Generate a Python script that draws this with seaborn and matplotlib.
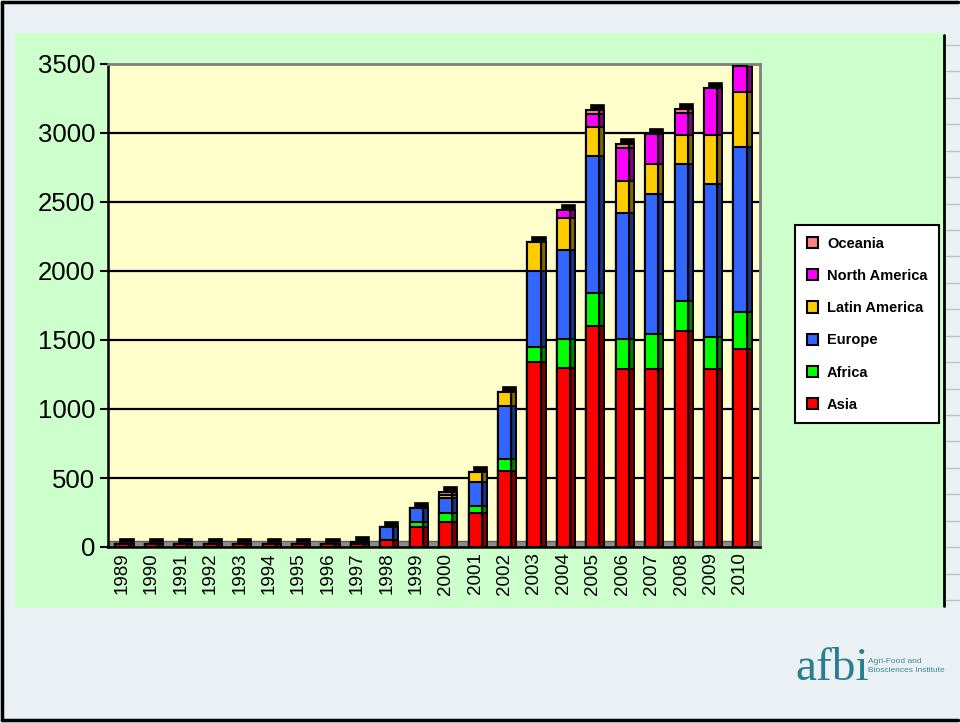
import numpy as np
import pandas as pd
import matplotlib
matplotlib.use("Agg")
import matplotlib.pyplot as plt
import matplotlib.transforms as mtransforms
from matplotlib.patches import Rectangle
from matplotlib.lines import Line2D
import seaborn as sns

# ----------------------------------------------------------
# Data
# ----------------------------------------------------------
years = [str(y) for y in range(1989, 2011)]
asia          = [20, 20, 20, 20, 20, 20, 20, 20, 20, 50, 145, 182, 248, 554, 1342, 1298, 1605, 1291, 1291, 1568, 1291, 1437]
africa        = [0, 0, 0, 0, 0, 0, 0, 0, 0, 0, 37, 66, 51, 81, 109, 212, 233, 219, 255, 212, 233, 263]
europe        = [0, 0, 0, 0, 0, 0, 0, 0, 0, 95, 103, 109, 175, 386, 547, 642, 992, 911, 1014, 992, 1109, 1196]
latin_america = [0, 0, 0, 0, 0, 0, 0, 0, 0, 0, 0, 23, 73, 102, 212, 233, 211, 234, 212, 211, 350, 401]
north_america = [0, 0, 0, 0, 0, 0, 0, 0, 0, 0, 0, 0, 0, 0, 0, 58, 95, 233, 218, 161, 340, 190]
oceania       = [0, 0, 0, 0, 0, 0, 0, 0, 15, 0, 0, 15, 0, 0, 0, 0, 32, 30, 0, 29, 0, 0]

regions = ["Asia", "Africa", "Europe", "Latin America", "North America", "Oceania"]
colors  = ["#FF0000", "#00FF00", "#3366FF", "#FFCC00", "#FF00FF", "#FF8080"]
dark    = ["#800000", "#008000", "#1a3380", "#806600", "#800080", "#804040"]

df = pd.DataFrame({"Year": years, "Asia": asia, "Africa": africa, "Europe": europe,
                   "Latin America": latin_america, "North America": north_america,
                   "Oceania": oceania})
cum = df[regions].cumsum(axis=1)
cum["Year"] = years

# ----------------------------------------------------------
# Figure / slide background
# ----------------------------------------------------------
sns.set_style("white")
plt.rcParams["font.family"] = ["Liberation Sans", "DejaVu Sans"]
plt.rcParams["text.color"] = "black"
plt.rcParams["xtick.color"] = "black"
plt.rcParams["ytick.color"] = "black"

W, H = 960, 723
fig = plt.figure(figsize=(9.6, 7.23), dpi=100)
fig.patch.set_facecolor("#eaf0f3")

def fx(px):
    return px / W

def fy(py):
    return 1 - py / H

# green panel
fig.patches.append(Rectangle((fx(15), fy(608)), fx(930), (608 - 33) / H,
                             transform=fig.transFigure, facecolor="#CCFFCC",
                             edgecolor="none", zorder=-5))
# slide frame
fig.add_artist(Line2D([fx(2), fx(958)], [fy(2), fy(2)], color="black", lw=2.5))
fig.add_artist(Line2D([fx(2), fx(2)], [fy(2), fy(720)], color="black", lw=2.5))
fig.add_artist(Line2D([fx(2), fx(958)], [fy(720), fy(720)], color="black", lw=2.5))
fig.add_artist(Line2D([fx(944), fx(944)], [fy(35), fy(606)], color="black", lw=2))
for ty in np.linspace(45, 600, 22):
    fig.add_artist(Line2D([fx(946), fx(960)], [fy(ty), fy(ty)], color="#b8c4c8", lw=1))

# ----------------------------------------------------------
# Plot area
# ----------------------------------------------------------
ax = fig.add_axes([fx(108), fy(547), fx(760 - 108), (547 - 64) / H])
ax.set_facecolor("#FFFFCC")

off_side = mtransforms.ScaledTranslation(0.05, 0.0, fig.dpi_scale_trans)
off_top = mtransforms.ScaledTranslation(0.05, 0.05, fig.dpi_scale_trans)

# 3D depth: black cap behind, dark sides
n0 = len(ax.patches)
sns.barplot(data=cum, x="Year", y="Oceania", color="black", saturation=1,
            width=0.45, errorbar=None, ax=ax, edgecolor="black", linewidth=1.2)
for p in ax.patches[n0:]:
    p.set_transform(ax.transData + off_top)
    p.set_zorder(2)

for reg, dc in list(zip(regions, dark))[::-1]:
    n0 = len(ax.patches)
    sns.barplot(data=cum, x="Year", y=reg, color=dc, saturation=1,
                width=0.45, errorbar=None, ax=ax, edgecolor="black", linewidth=1.2)
    for p in ax.patches[n0:]:
        p.set_transform(ax.transData + off_side)
        p.set_zorder(2)

# front faces (cumulative, drawn from the top layer down)
for reg, c in list(zip(regions, colors))[::-1]:
    n0 = len(ax.patches)
    sns.barplot(data=cum, x="Year", y=reg, color=c, saturation=1,
                width=0.45, errorbar=None, ax=ax, edgecolor="black", linewidth=1.5)
    for p in ax.patches[n0:]:
        p.set_zorder(3)

ax.set_xlim(-0.476, 21.68)
ax.set_ylim(0, 3500)
ax.set_yticks(range(0, 3501, 500))
ax.yaxis.grid(True, color="black", lw=1.6, zorder=1)
ax.set_axisbelow(True)
ax.set_xlabel("")
ax.set_ylabel("")
ax.tick_params(axis="y", labelsize=18.5, length=6, width=1.5, left=True, pad=3,
               labelcolor="black")
ax.tick_params(axis="x", labelsize=13.5, length=0, pad=4, labelcolor="black")
plt.setp(ax.get_xticklabels(), rotation=90)
for s in ["top", "right"]:
    ax.spines[s].set_color("#808080")
    ax.spines[s].set_linewidth(2)
for s in ["left", "bottom"]:
    ax.spines[s].set_color("black")
    ax.spines[s].set_linewidth(1.8)

# floor strip
ax.add_patch(Rectangle((0, 0), 1, 0.012, transform=ax.transAxes,
                       facecolor="#8c8c8c", edgecolor="#606060", lw=1, zorder=1.5))

# ----------------------------------------------------------
# Legend
# ----------------------------------------------------------
handles = [Rectangle((0, 0), 1, 1, facecolor=c, edgecolor="black", lw=1.5)
           for c in colors][::-1]
leg = fig.legend(handles, regions[::-1], loc="upper left",
                 bbox_to_anchor=(fx(795), fy(225)), frameon=True,
                 prop={"size": 10.5, "weight": "bold"}, labelspacing=1.25,
                 handlelength=0.8, handleheight=0.8, handletextpad=0.6,
                 borderpad=0.8, borderaxespad=0, fancybox=False, framealpha=1)
leg.get_frame().set_edgecolor("black")
leg.get_frame().set_linewidth(1.5)
leg.get_frame().set_facecolor("white")
for t in leg.get_texts():
    t.set_color("black")

# ----------------------------------------------------------
# Logo text
# ----------------------------------------------------------
fig.text(fx(795), fy(680), "afbi", fontsize=34, color="#2a7f8f",
         family=["Liberation Serif", "DejaVu Serif"], ha="left", va="baseline")
fig.text(fx(868), fy(666), "Agri-Food and\nBiosciences Institute", fontsize=6,
         color="#3b8a98", ha="left", va="center", linespacing=1.3)

fig.savefig("out.png", dpi=100, facecolor=fig.get_facecolor())
